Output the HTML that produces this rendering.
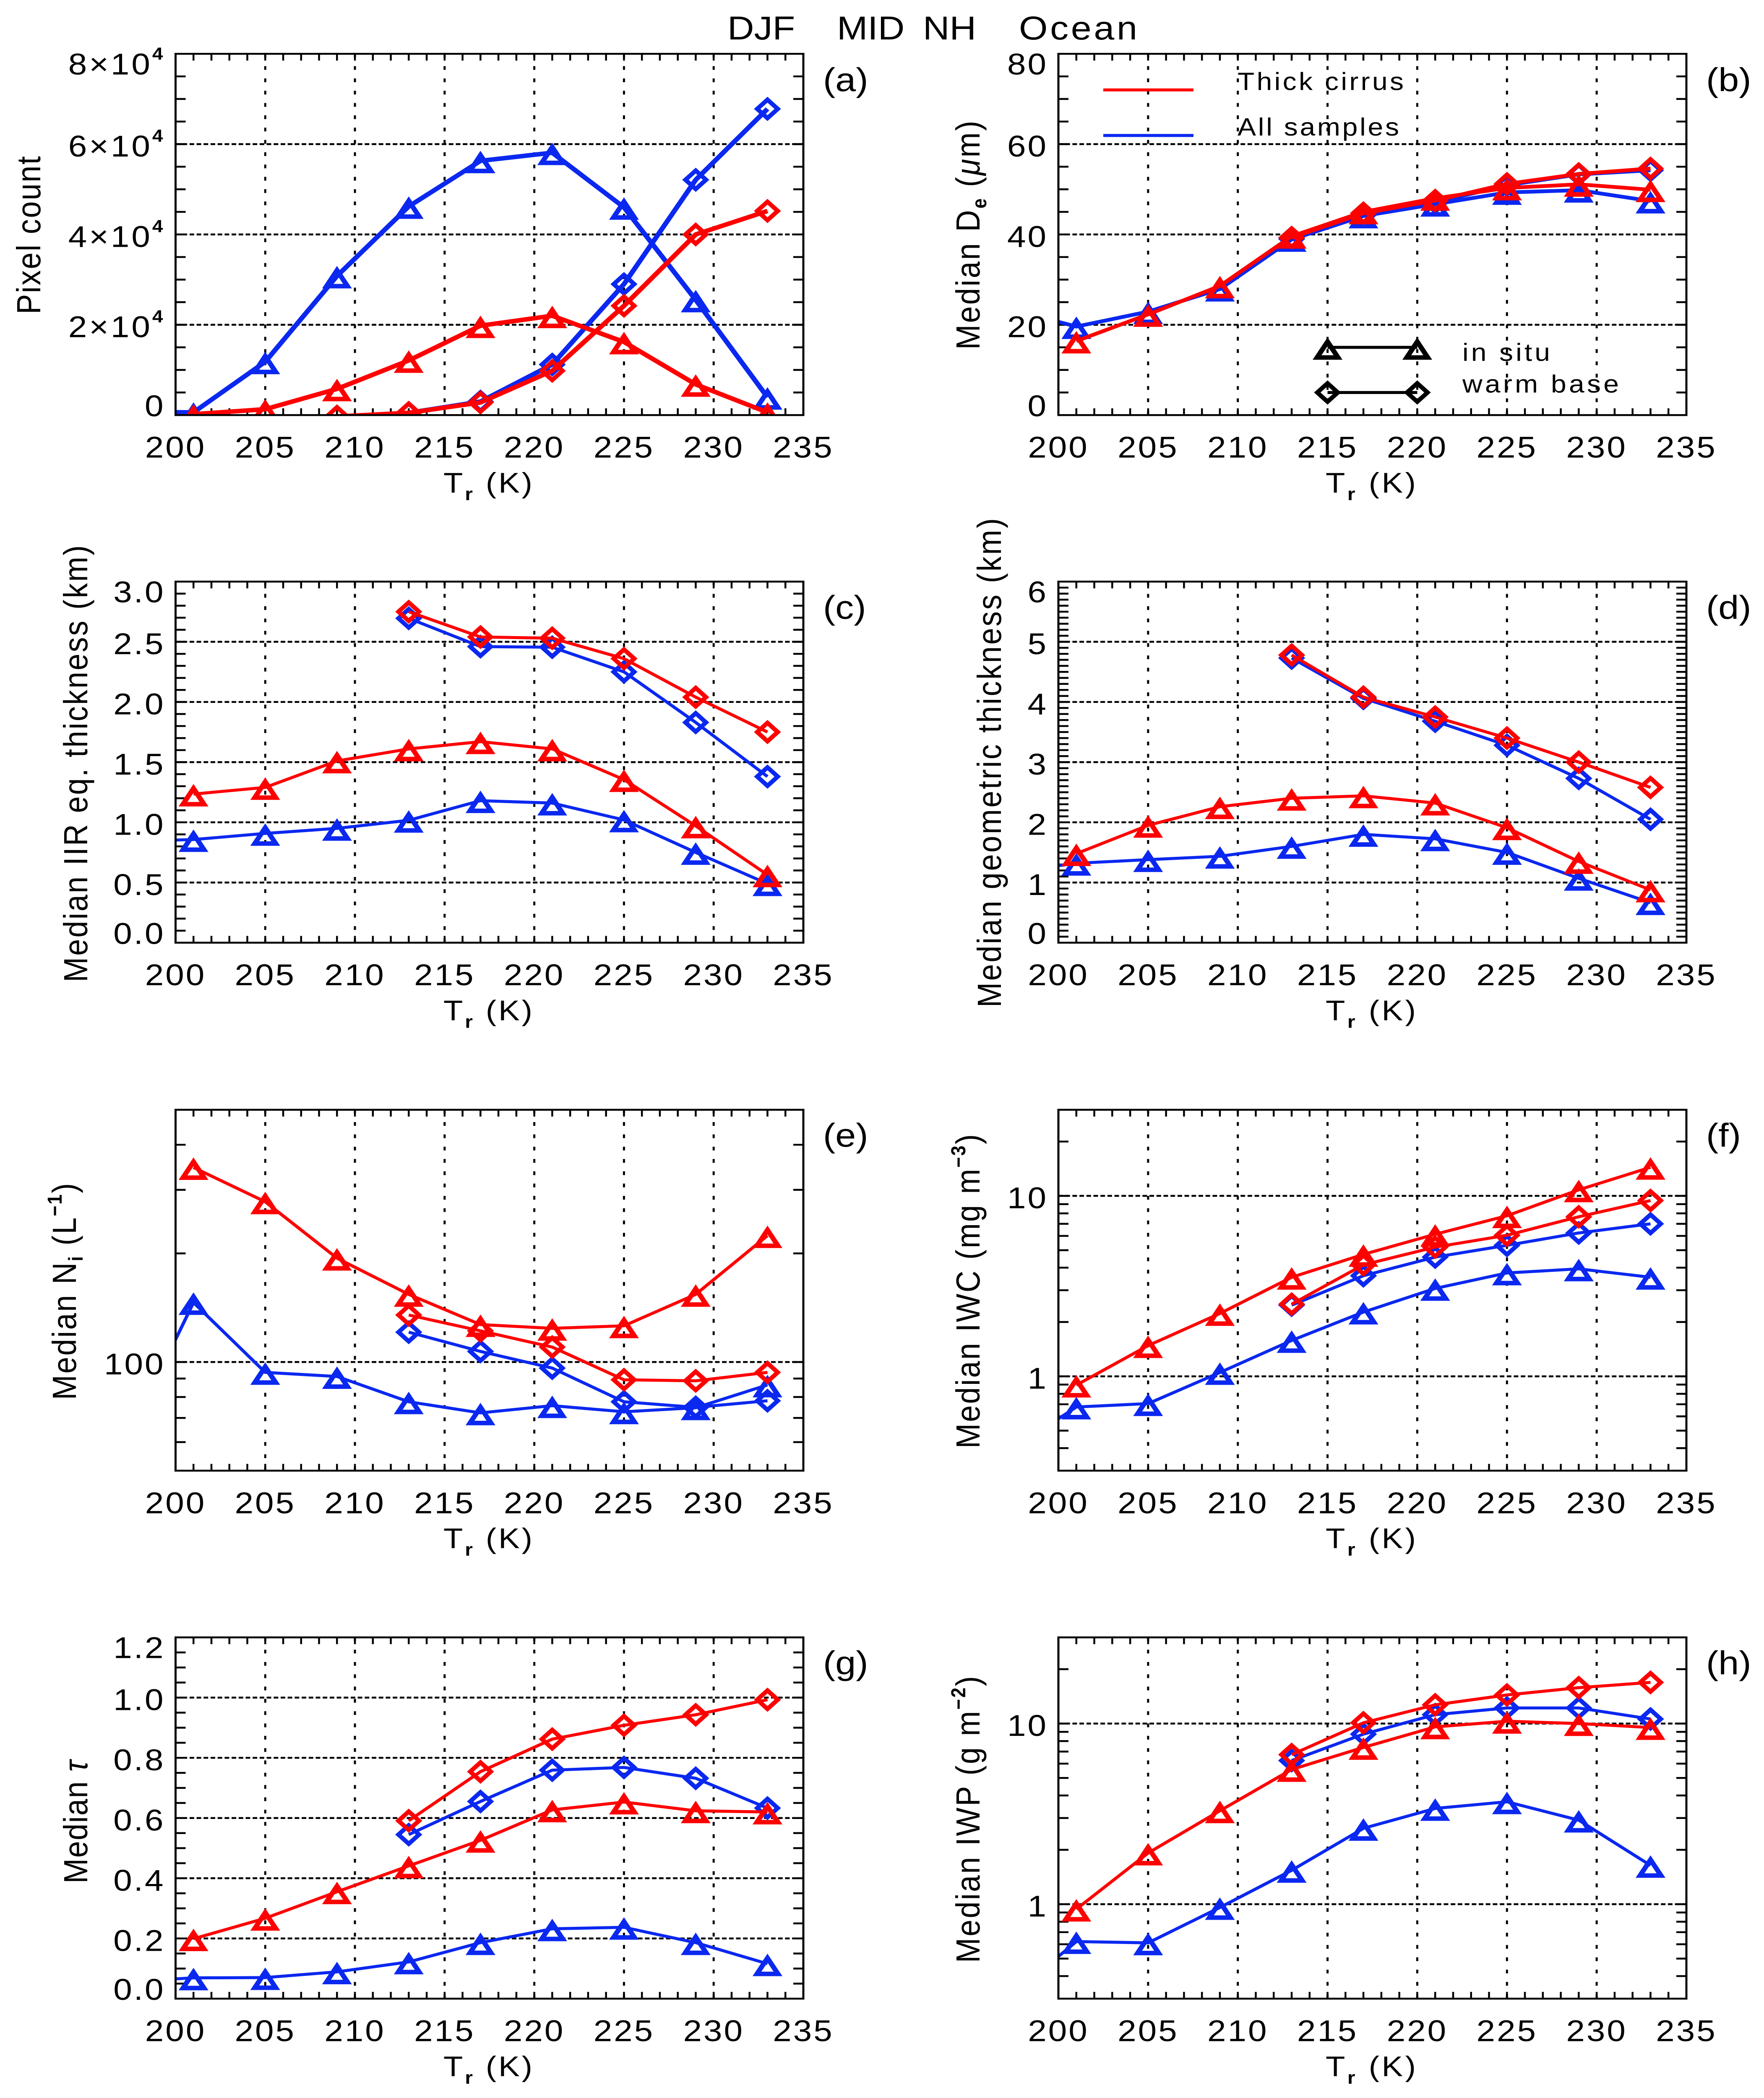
<!DOCTYPE html>
<html lang="en">
<head>
<meta charset="utf-8">
<title>DJF MID NH Ocean</title>
<style>
html,body{margin:0;padding:0;background:#fff;width:4205px;height:5575px;overflow:hidden;}
svg{display:block;overflow:hidden;}
text{font-family:"Liberation Sans",sans-serif;fill:#000;}
.t-title{font-size:88px;}
.t-ylab{font-size:80px;}
.t-xlab{font-size:76px;}
.t-panel{font-size:88px;}
.t-leg{font-size:66px;}
.t-sub{font-size:48px;font-weight:bold;}
.t-tick{font-size:80px;letter-spacing:4px;}
.t-sci{letter-spacing:5px;}
.t-exp{font-size:46px;font-weight:bold;}
</style>
</head>
<body>
<svg id="chart" xmlns="http://www.w3.org/2000/svg" width="4205" height="5575" viewBox="0 0 4205 5575">
<rect x="0" y="0" width="4205" height="5575" fill="#ffffff"/>
<text class="t-title" y="105"><tspan x="1734">DJF</tspan><tspan x="1995">MID</tspan><tspan x="2200">NH</tspan><tspan x="2429" textLength="282">Ocean</tspan></text>

<text class="t-ylab" x="96" y="835" transform="rotate(-90 96 835)" textLength="420">Pixel count</text>
<text class="t-ylab" x="2335" y="929" transform="rotate(-90 2335 929)" textLength="608">Median D<tspan class="t-sub" dy="16">e</tspan><tspan dy="-16"> (</tspan><tspan font-style="italic">μ</tspan>m)</text>
<text class="t-ylab" x="208" y="2610" transform="rotate(-90 208 2610)" textLength="1161">Median IIR eq. thickness (km)</text>
<text class="t-ylab" x="2386" y="2677" transform="rotate(-90 2386 2677)" textLength="1300">Median geometric thickness (km)</text>
<text class="t-ylab" x="181" y="3720" transform="rotate(-90 181 3720)" textLength="576">Median N<tspan class="t-sub" dy="16">i</tspan><tspan dy="-16"> (L</tspan><tspan class="t-sub" dy="-34">−1</tspan><tspan dy="34">)</tspan></text>
<text class="t-ylab" x="2335" y="3849" transform="rotate(-90 2335 3849)" textLength="835">Median IWC (mg m<tspan class="t-sub" dy="-34">−3</tspan><tspan dy="34">)</tspan></text>
<text class="t-ylab" x="208" y="5005" transform="rotate(-90 208 5005)" textLength="327">Median <tspan font-style="italic">τ</tspan></text>
<text class="t-ylab" x="2335" y="5216" transform="rotate(-90 2335 5216)" textLength="762">Median IWP (g m<tspan class="t-sub" dy="-34">−2</tspan><tspan dy="34">)</tspan></text>

<text class="t-xlab" x="1057" y="1309" textLength="212">T<tspan class="t-sub" dy="20">r</tspan><tspan dy="-20"> (K)</tspan></text>
<text class="t-xlab" x="3160" y="1309" textLength="215">T<tspan class="t-sub" dy="20">r</tspan><tspan dy="-20"> (K)</tspan></text>
<text class="t-xlab" x="1057" y="2711" textLength="212">T<tspan class="t-sub" dy="20">r</tspan><tspan dy="-20"> (K)</tspan></text>
<text class="t-xlab" x="3160" y="2711" textLength="215">T<tspan class="t-sub" dy="20">r</tspan><tspan dy="-20"> (K)</tspan></text>
<text class="t-xlab" x="1057" y="4114" textLength="212">T<tspan class="t-sub" dy="20">r</tspan><tspan dy="-20"> (K)</tspan></text>
<text class="t-xlab" x="3160" y="4114" textLength="215">T<tspan class="t-sub" dy="20">r</tspan><tspan dy="-20"> (K)</tspan></text>
<text class="t-xlab" x="1057" y="5517" textLength="212">T<tspan class="t-sub" dy="20">r</tspan><tspan dy="-20"> (K)</tspan></text>
<text class="t-xlab" x="3160" y="5517" textLength="215">T<tspan class="t-sub" dy="20">r</tspan><tspan dy="-20"> (K)</tspan></text>

<text class="t-panel" x="1962" y="242">(a)</text>
<text class="t-panel" x="4067" y="242">(b)</text>
<text class="t-panel" x="1962" y="1644">(c)</text>
<text class="t-panel" x="4067" y="1644">(d)</text>
<text class="t-panel" x="1962" y="3047">(e)</text>
<text class="t-panel" x="4067" y="3047">(f)</text>
<text class="t-panel" x="1962" y="4449">(g)</text>
<text class="t-panel" x="4067" y="4449">(h)</text>

<g id="panels"></g>

<g>
<line x1="2630" y1="239" x2="2845" y2="239" stroke="#ff0000" stroke-width="8"/>
<text class="t-leg" x="2950" y="239" textLength="396">Thick cirrus</text>
<line x1="2630" y1="360" x2="2845" y2="360" stroke="#0a28f0" stroke-width="8"/>
<text class="t-leg" x="2950" y="360" textLength="385">All samples</text>
</g>
<g>
<text class="t-leg" x="3486" y="959" textLength="209">in situ</text>
<text class="t-leg" x="3486" y="1043" textLength="373">warm base</text>
</g>
</svg>

<script>
// ---------- shared x data ----------
const temps = [197, 201, 205, 209, 213, 217, 221, 225, 229, 233];
const xTickValues = [200, 205, 210, 215, 220, 225, 230, 235];
const xTickLabels = ['200', '205', '210', '215', '220', '225', '230', '235'];
const xGridValues = [205, 210, 215, 220, 225, 230];

// ---------- (a) pixel count ----------
const aAllInSitu = [700, 600, 11800, 30800, 46200, 56300, 58100, 46000, 25500, 3950];
const aAllWarm = [null, null, null, null, 500, 3000, 11200, 29000, 52100, 67800];
const aThickInSitu = [null, 200, 1300, 5800, 12100, 19800, 22000, 16200, 6800, 600];
const aThickWarm = [null, null, null, -300, 500, 2800, 9800, 24200, 40000, 45200];
const aTickValues = [0, 20000, 40000, 60000, 80000];
const aTickLabels = ['0', '2×10^4', '4×10^4', '6×10^4', '8×10^4'];

// ---------- (b) median De ----------
const bAllInSitu = [23.8, 19.6, 22.9, 27.9, 38.9, 44.1, 46.7, 49.3, 49.8, 47.4];
const bAllWarm = [null, null, null, null, 39, 44.3, 47.1, 50.9, 53.3, 54.2];
const bThickInSitu = [null, 16.4, 22.3, 28.6, 39.6, 45, 48, 50.3, 51.1, 49.9];
const bThickWarm = [null, null, null, null, 39.3, 44.7, 47.5, 51.2, 53.4, 54.6];
const bTickValues = [0, 20, 40, 60, 80];
const bTickLabels = ['0', '20', '40', '60', '80'];

// ---------- (c) IIR equivalent thickness ----------
const cAllInSitu = [0.84, 0.857, 0.908, 0.95, 1.017, 1.18, 1.16, 1.02, 0.75, 0.49];
const cAllWarm = [null, null, null, null, 2.695, 2.46, 2.455, 2.25, 1.83, 1.38];
const cThickInSitu = [null, 1.235, 1.29, 1.51, 1.61, 1.67, 1.61, 1.355, 0.97, 0.564];
const cThickWarm = [null, null, null, null, 2.75, 2.54, 2.53, 2.36, 2.04, 1.75];
const cTickValues = [0, 0.5, 1, 1.5, 2, 2.5, 3];
const cTickLabels = ['0.0', '0.5', '1.0', '1.5', '2.0', '2.5', '3.0'];

// ---------- (d) geometric thickness ----------
const dAllInSitu = [1.156, 1.32, 1.38, 1.436, 1.6, 1.8, 1.726, 1.5, 1.07, 0.665];
const dAllWarm = [null, null, null, null, 4.73, 4.06, 3.68, 3.28, 2.73, 2.05];
const dThickInSitu = [null, 1.48, 1.95, 2.26, 2.4, 2.44, 2.32, 1.91, 1.35, 0.877];
const dThickWarm = [null, null, null, null, 4.78, 4.08, 3.75, 3.4, 3.0, 2.58];
const dTickValues = [0, 1, 2, 3, 4, 5, 6];
const dTickLabels = ['0', '1', '2', '3', '4', '5', '6'];

// ---------- (e) Ni ----------
const eAllInSitu = [56.9, 146.2, 93.6, 91.2, 77.6, 72.3, 75.7, 72.8, 74.7, 86.4];
const eAllWarm = [null, null, null, null, 121, 107, 96.2, 77.6, 74.9, 78.1];
const eThickInSitu = [null, 346, 278, 194, 154, 127, 124, 126, 154, 224];
const eThickWarm = [null, null, null, null, 135, 122, 110, 89.3, 88.7, 93.6];
const eTickValues = [100];
const eTickLabels = ['100'];
const eMinorValues = [60, 70, 80, 90, 200, 300, 400];

// ---------- (f) IWC ----------
const fAllInSitu = [0.371, 0.676, 0.706, 1.05, 1.58, 2.27, 3.07, 3.74, 3.94, 3.54];
const fAllWarm = [null, null, null, null, 2.48, 3.61, 4.58, 5.32, 6.23, 7.0];
const fThickInSitu = [null, 0.894, 1.48, 2.23, 3.54, 4.74, 6.13, 7.76, 10.8, 14.4];
const fThickWarm = [null, null, null, null, 2.51, 4.15, 5.2, 6.05, 7.66, 9.42];
const fTickValues = [1, 10];
const fTickLabels = ['1', '10'];
const fMinorValues = [0.4, 0.5, 0.6, 0.7, 0.8, 0.9, 2, 3, 4, 5, 6, 7, 8, 9, 20];

// ---------- (g) tau ----------
const gAllInSitu = [0.056, 0.069, 0.07, 0.089, 0.122, 0.186, 0.232, 0.237, 0.186, 0.116];
const gAllWarm = [null, null, null, null, 0.545, 0.655, 0.759, 0.768, 0.732, 0.633];
const gThickInSitu = [null, 0.199, 0.267, 0.355, 0.441, 0.526, 0.627, 0.653, 0.624, 0.62];
const gThickWarm = [null, null, null, null, 0.591, 0.754, 0.862, 0.908, 0.943, 0.993];
const gTickValues = [0, 0.2, 0.4, 0.6, 0.8, 1, 1.2];
const gTickLabels = ['0.0', '0.2', '0.4', '0.6', '0.8', '1.0', '1.2'];

// ---------- (h) IWP ----------
const hAllInSitu = [0.291, 0.621, 0.611, 0.959, 1.54, 2.63, 3.39, 3.69, 2.92, 1.64];
const hAllWarm = [null, null, null, null, 6.24, 8.74, 11.2, 12.2, 12.2, 10.6];
const hThickInSitu = [null, 0.939, 1.92, 3.29, 5.57, 7.38, 9.59, 10.3, 10.0, 9.51];
const hThickWarm = [null, null, null, null, 6.73, 10.1, 12.7, 14.4, 15.8, 16.9];
const hTickValues = [1, 10];
const hTickLabels = ['1', '10'];
const hMinorValues = [0.4, 0.5, 0.6, 0.7, 0.8, 0.9, 2, 3, 4, 5, 6, 7, 8, 9, 20];

// ---------- marker legend ----------
const legendTemps = [215, 220];
const legendInSitu = [15, 15];
const legendWarm = [5, 5];

const NS = 'http://www.w3.org/2000/svg';
const BLUE = '#0a28f0';
const RED = '#ff0000';
const colLeft = [418.5, 2523];
const colRight = [1915, 4020];
const rowTop = [143, 1545.5, 2949, 4351];
const rowBottom = [1103, 2505, 3908, 5311];

function mk(parent, tag, name, attrs) {
  const el = document.createElementNS(NS, tag);
  
  
  for (const k in attrs) { el.setAttribute(k, attrs[k]); }
  parent.appendChild(el);
  return el;
}

function drawMarker(parent, name, kind, px, py, color) {
  let pts, sw;
  if (kind === 'tri') {
    pts = [[px, py - 15], [px - 25, py + 27], [px + 25, py + 27]];
    sw = 12;
  } else {
    pts = [[px, py - 24.5], [px + 24.5, py], [px, py + 24.5], [px - 24.5, py]];
    sw = 11;
  }
  mk(parent, 'polygon', name, {
    points: pts.map(function (p) { return p[0] + ',' + p[1]; }).join(' '),
    fill: 'none', stroke: color, 'stroke-width': sw, 'stroke-linejoin': 'miter', 'stroke-miterlimit': 8
  });
}

function makePanel(cfg) {
  const L = colLeft[cfg.col], R = colRight[cfg.col], T = rowTop[cfg.row], B = rowBottom[cfg.row];
  const xScale = function (v) { return L + (v - 200) / 35 * (R - L); };
  const yScale = cfg.log
    ? function (v) { return B - (Math.log10(v) - Math.log10(cfg.yMin)) / (Math.log10(cfg.yMax) - Math.log10(cfg.yMin)) * (B - T); }
    : function (v) { return B - (v - cfg.yMin) / (cfg.yMax - cfg.yMin) * (B - T); };
  const root = document.getElementById('panels');
  const g = mk(root, 'g', 'panel-' + cfg.id, {});

  const clipId = 'clip-' + cfg.id;
  const defs = mk(g, 'defs', 'clip-defs-' + cfg.id, {});
  const clip = mk(defs, 'clipPath', 'plot-clip-' + cfg.id, { id: clipId });
  mk(clip, 'rect', 'plot-clip-rect-' + cfg.id, { x: L, y: T, width: R - L, height: B - T });

  // gridlines
  const grid = mk(g, 'g', 'grid-' + cfg.id, {});
  xGridValues.forEach(function (v) {
    mk(grid, 'line', 'x-gridline-' + v, { x1: xScale(v), x2: xScale(v), y1: T, y2: B, stroke: '#000', 'stroke-width': 5, 'stroke-dasharray': '10 22.7' });
  });
  cfg.yMajor.forEach(function (v) {
    const y = yScale(v);
    if (Math.abs(y - T) < 4 || Math.abs(y - B) < 4) { return; }
    mk(grid, 'line', 'y-gridline-' + v, { x1: L, x2: R, y1: y, y2: y, stroke: '#000', 'stroke-width': 5, 'stroke-dasharray': '11 5.7' });
  });

  // x ticks every 1 K on both horizontal sides
  const xt = mk(g, 'g', 'x-ticks-' + cfg.id, {});
  for (let k = 201; k < 235; k++) {
    const x = xScale(k);
    mk(xt, 'line', 'x-tick-bottom-' + k, { x1: x, x2: x, y1: B, y2: B - 18, stroke: '#000', 'stroke-width': 4.5 });
    mk(xt, 'line', 'x-tick-top-' + k, { x1: x, x2: x, y1: T, y2: T + 18, stroke: '#000', 'stroke-width': 4.5 });
  }

  // y ticks
  const yt = mk(g, 'g', 'y-ticks-' + cfg.id, {});
  let minors = cfg.yMinor;
  if (!minors) {
    minors = [];
    const n = Math.round((cfg.yMax - cfg.yMin) / cfg.yStep);
    for (let i = 1; i < n; i++) { minors.push(cfg.yMin + i * cfg.yStep); }
  }
  minors.concat(cfg.yMajor).forEach(function (v) {
    const y = yScale(v);
    if (Math.abs(y - T) < 4 || Math.abs(y - B) < 4) { return; }
    mk(yt, 'line', 'y-tick-left-' + v, { x1: L, x2: L + 24, y1: y, y2: y, stroke: '#000', 'stroke-width': 5 });
    mk(yt, 'line', 'y-tick-right-' + v, { x1: R, x2: R - 24, y1: y, y2: y, stroke: '#000', 'stroke-width': 5 });
  });

  // series
  const plot = mk(g, 'g', 'plot-area-' + cfg.id, { 'clip-path': 'url(#' + clipId + ')' });
  cfg.series.forEach(function (s) {
    const sg = mk(plot, 'g', 'series-' + s.name, {});
    const pts = [];
    temps.forEach(function (t, i) {
      if (s.values[i] !== null) { pts.push([xScale(t), yScale(s.values[i]), t]); }
    });
    mk(sg, 'polyline', 'line-' + s.name, {
      points: pts.map(function (p) { return p[0] + ',' + p[1]; }).join(' '),
      fill: 'none', stroke: s.color, 'stroke-width': cfg.lw, 'stroke-linejoin': 'round'
    });
    pts.forEach(function (p) {
      drawMarker(sg, 'point-' + s.name + '-' + p[2], s.marker, p[0], p[1], s.color);
    });
  });

  // frame
  mk(g, 'rect', 'plot-frame-' + cfg.id, { x: L, y: T, width: R - L, height: B - T, fill: 'none', stroke: '#000', 'stroke-width': 5 });

  // x tick labels
  xTickValues.forEach(function (v, i) {
    const t = mk(g, 'text', 'x-tick-label-' + v, { x: xScale(v), y: B + 113, 'text-anchor': 'middle', class: 't-tick' });
    t.textContent = xTickLabels[i];
  });

  // y tick labels
  cfg.yMajor.forEach(function (v, i) {
    const y = Math.min(Math.max(yScale(v) + 33, T + 55), B + 3);
    const parts = cfg.yLabels[i].split('^');
    const t = mk(g, 'text', 'y-tick-label-' + cfg.id + '-' + v, {
      x: L - 25, y: y, 'text-anchor': 'end',
      class: parts.length > 1 ? 't-tick t-sci' : 't-tick'
    });
    t.appendChild(document.createTextNode(parts[0]));
    if (parts.length > 1) {
      const e = mk(t, 'tspan', 'y-tick-exponent', { class: 't-exp', dy: -39 });
      e.textContent = parts[1];
    }
  });

  return { xScale: xScale, yScale: yScale, g: g };
}

function seriesFor(allSitu, allWarm, thickSitu, thickWarm) {
  return [
    { name: 'all-samples-in-situ', color: BLUE, marker: 'tri', values: allSitu },
    { name: 'all-samples-warm-base', color: BLUE, marker: 'dia', values: allWarm },
    { name: 'thick-cirrus-in-situ', color: RED, marker: 'tri', values: thickSitu },
    { name: 'thick-cirrus-warm-base', color: RED, marker: 'dia', values: thickWarm }
  ];
}

makePanel({ id: 'a', col: 0, row: 0, yMin: 0, yMax: 80000, yStep: 5000, yMajor: aTickValues, yLabels: aTickLabels, lw: 12,
  series: seriesFor(aAllInSitu, aAllWarm, aThickInSitu, aThickWarm) });
const panelB = makePanel({ id: 'b', col: 1, row: 0, yMin: 0, yMax: 80, yStep: 5, yMajor: bTickValues, yLabels: bTickLabels, lw: 10,
  series: seriesFor(bAllInSitu, bAllWarm, bThickInSitu, bThickWarm) });
makePanel({ id: 'c', col: 0, row: 1, yMin: 0, yMax: 3, yStep: 0.1, yMajor: cTickValues, yLabels: cTickLabels, lw: 8,
  series: seriesFor(cAllInSitu, cAllWarm, cThickInSitu, cThickWarm) });
makePanel({ id: 'd', col: 1, row: 1, yMin: 0, yMax: 6, yStep: 0.1, yMajor: dTickValues, yLabels: dTickLabels, lw: 8,
  series: seriesFor(dAllInSitu, dAllWarm, dThickInSitu, dThickWarm) });
makePanel({ id: 'e', col: 0, row: 2, log: true, yMin: 50, yMax: 500, yMinor: eMinorValues, yMajor: eTickValues, yLabels: eTickLabels, lw: 8,
  series: seriesFor(eAllInSitu, eAllWarm, eThickInSitu, eThickWarm) });
makePanel({ id: 'f', col: 1, row: 2, log: true, yMin: 0.3, yMax: 30, yMinor: fMinorValues, yMajor: fTickValues, yLabels: fTickLabels, lw: 8,
  series: seriesFor(fAllInSitu, fAllWarm, fThickInSitu, fThickWarm) });
makePanel({ id: 'g', col: 0, row: 3, yMin: 0, yMax: 1.2, yStep: 0.05, yMajor: gTickValues, yLabels: gTickLabels, lw: 8,
  series: seriesFor(gAllInSitu, gAllWarm, gThickInSitu, gThickWarm) });
makePanel({ id: 'h', col: 1, row: 3, log: true, yMin: 0.3, yMax: 30, yMinor: hMinorValues, yMajor: hTickValues, yLabels: hTickLabels, lw: 8,
  series: seriesFor(hAllInSitu, hAllWarm, hThickInSitu, hThickWarm) });

// marker legend inside panel (b)
const lg = mk(panelB.g, 'g', 'marker-legend', {});
[[legendInSitu, 'tri', 'in-situ'], [legendWarm, 'dia', 'warm-base']].forEach(function (row) {
  const x0 = panelB.xScale(legendTemps[0]);
  const x1 = panelB.xScale(legendTemps[1]);
  const y0 = panelB.yScale(row[0][0]);
  const y1 = panelB.yScale(row[0][1]);
  mk(lg, 'line', 'legend-line-' + row[2], { x1: x0, x2: x1, y1: y0, y2: y1, stroke: '#000', 'stroke-width': 8 });
  drawMarker(lg, 'legend-marker-' + row[2] + '-left', row[1], x0, y0, '#000');
  drawMarker(lg, 'legend-marker-' + row[2] + '-right', row[1], x1, y1, '#000');
});

// If the actual viewport is shorter than the nominal frame, fit the whole figure into it.
const viewportHeight = window.innerHeight;
if (viewportHeight >= 4800 && viewportHeight < 5575) {
  const chartRoot = document.getElementById('chart');
  chartRoot.setAttribute('height', viewportHeight);
  chartRoot.setAttribute('preserveAspectRatio', 'none');
  document.documentElement.style.height = viewportHeight + 'px';
  document.body.style.height = viewportHeight + 'px';
}
</script>
</body>
</html>
